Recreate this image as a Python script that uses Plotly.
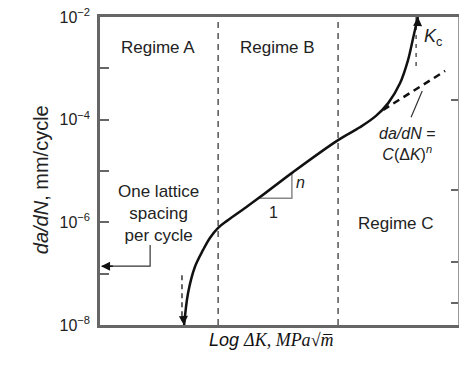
import plotly.graph_objects as go

# ---- data ----
log_dk = [2.35, 2.46, 2.65, 2.88, 3.07, 3.30, 3.58, 4.05, 4.47, 5.39, 6.65, 7.26, 7.70, 8.05, 8.38, 8.60, 8.75, 8.88]
dadn = [1e-8, 4.2e-8, 1.35e-7, 2.9e-7, 4.95e-7, 7.8e-7, 1.11e-6, 1.9e-6, 3.1e-6, 9.5e-6, 4.0e-5, 7.1e-5,
        1.17e-4, 2.1e-4, 5.1e-4, 1.41e-3, 4.0e-3, 1e-2]
paris_x = [7.91, 9.64]
paris_y = [1.55e-4, 8.9e-4]
regime_bounds = [3.30, 6.65]
threshold_x = 2.29
kc_x = 8.88
tri_x = [4.41, 5.36, 5.36]
tri_y = [2.95e-6, 2.95e-6, 9.5e-6]
lattice_x = [1.40, 1.40, 0.05]
lattice_y = [3.6e-7, 1.4e-7, 1.4e-7]
leader_x = [9.0, 8.69]
leader_y = [3.6e-4, 1.12e-4]
ytick_vals = [1e-8, 1e-7, 1e-6, 1e-5, 1e-4, 1e-3, 1e-2]
ytick_text = ["10<sup>−8</sup>", "", "10<sup>−6</sup>", "", "10<sup>−4</sup>", "", "10<sup>−2</sup>"]
right_ticks = [2.4e-4, 4.3e-6, 1.7e-7, 2.7e-8]

FONT = "Liberation Sans, Arial, sans-serif"
fig = go.Figure()

for xb in regime_bounds:
    fig.add_trace(go.Scatter(x=[xb, xb], y=[1e-8, 1e-2], mode="lines",
                             line=dict(color="#555", width=1.5, dash="6px,5px"), hoverinfo="skip"))
fig.add_trace(go.Scatter(x=[threshold_x, threshold_x], y=[9.3e-8, 1.2e-8], mode="lines",
                         line=dict(color="#333", width=1.5, dash="5px,4px"), hoverinfo="skip"))
fig.add_trace(go.Scatter(x=[kc_x - 0.05, kc_x - 0.05], y=[1e-2, 9e-4], mode="lines",
                         line=dict(color="#555", width=1.5, dash="4px,5px"), hoverinfo="skip"))
fig.add_trace(go.Scatter(x=tri_x + [tri_x[0]], y=tri_y + [tri_y[0]], mode="lines",
                         line=dict(color="#888", width=1.5), hoverinfo="skip"))
fig.add_trace(go.Scatter(x=log_dk, y=dadn, mode="lines", line=dict(color="#111", width=2.5, shape="spline"),
                         hoverinfo="skip"))
fig.add_trace(go.Scatter(x=paris_x, y=paris_y, mode="lines", line=dict(color="#111", width=2.5, dash="7px,5px"),
                         hoverinfo="skip"))
fig.add_trace(go.Scatter(x=lattice_x, y=lattice_y, mode="lines", line=dict(color="#333", width=1.2),
                         hoverinfo="skip"))
fig.add_trace(go.Scatter(x=leader_x, y=leader_y, mode="lines", line=dict(color="#333", width=1.2),
                         hoverinfo="skip"))
# invisible trace for right axis
fig.add_trace(go.Scatter(x=[0], y=[1e-5], yaxis="y2", mode="markers", marker=dict(opacity=0), hoverinfo="skip"))

ann = []
def txt(x, y, t, size=17, **kw):
    ann.append(dict(x=x, y=y, text=t, showarrow=False, font=dict(family=FONT, size=size, color="#222"), **kw))

txt(1.62, -2.60, "Regime A")
txt(4.97, -2.60, "Regime B")
txt(8.27, -6.03, "Regime C")
txt(1.62, -5.82, "One lattice<br>spacing<br>per cycle")
txt(8.58, -4.47, "<i>da/dN</i> =<br><i>C</i>(Δ<i>K</i>)<sup><i>n</i></sup>", size=16)
txt(9.30, -2.40, "<i>K</i><sub>c</sub>", size=18)
txt(4.86, -5.80, "1", size=16)
txt(5.59, -5.22, "<i>n</i>", size=16)

def arrow(x, y, ax, ay):
    ann.append(dict(x=x, y=y, ax=ax, ay=ay, xref="x", yref="y", axref="x", ayref="y", text="",
                    showarrow=True, arrowhead=2, arrowsize=1.2, arrowwidth=1.5, arrowcolor="#111", standoff=0))
arrow(2.34, -8.0, 2.33, -7.82)
arrow(kc_x, -2.0, kc_x - 0.01, -2.2)
arrow(0.03, -6.854, 0.4, -6.854)

# axis titles
ann.append(dict(xref="paper", yref="paper", x=0, y=0.47, xshift=-72, textangle=-90, showarrow=False,
                text="<i>da/dN</i>, mm/cycle", font=dict(family=FONT, size=20, color="#222")))
ann.append(dict(xref="paper", yref="paper", x=0.478, y=-0.088, showarrow=False,
                text="<i>Log</i> <span style='font-family:Liberation Serif, serif'><i>ΔK, MPa</i>√<i>m̅</i></span>",
                font=dict(family=FONT, size=18, color="#111")))

fig.update_layout(
    width=459, height=366, margin=dict(l=100, r=1, t=17, b=41),
    plot_bgcolor="white", paper_bgcolor="white", showlegend=False,
    annotations=ann,
    xaxis=dict(range=[0, 10], showticklabels=False, ticks="", showgrid=False, zeroline=False,
               showline=True, linecolor="#666", linewidth=2.5, mirror=True),
    yaxis=dict(type="log", range=[-8, -2], tickvals=ytick_vals, ticktext=ytick_text, ticks="inside",
               ticklen=9, tickwidth=1.5, tickcolor="#666", showgrid=False, zeroline=False,
               showline=True, linecolor="#666", linewidth=2.5, mirror=False,
               tickfont=dict(family=FONT, size=16, color="#222"), ticklabelstandoff=4),
    yaxis2=dict(type="log", range=[-8, -2], overlaying="y", side="right", tickvals=right_ticks,
                showticklabels=False, ticks="inside", ticklen=7, tickwidth=1.5, tickcolor="#666",
                showgrid=False, zeroline=False, showline=True, linecolor="#999", linewidth=1),
)
fig.write_html("out.html", config={"displayModeBar": False},
               post_script="document.body.style.margin='0';document.body.style.overflow='hidden';")
